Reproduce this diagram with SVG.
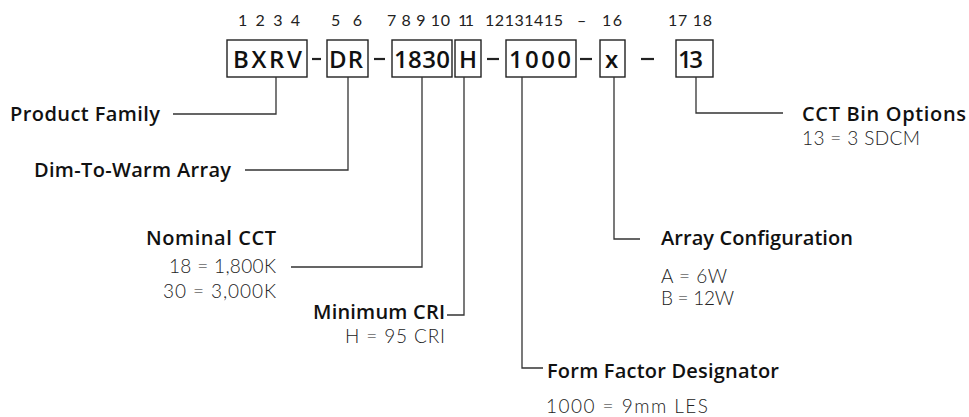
<svg xmlns="http://www.w3.org/2000/svg" width="969" height="417" viewBox="0 0 969 417">
<style>
.bx{fill:#fff;stroke:#222;stroke-width:1.4}
.code{font-family:"Open Sans",Lato,"Liberation Sans",sans-serif;font-weight:600;font-size:24px;fill:#111}
.num{font-family:Lato,"Open Sans","Liberation Sans",sans-serif;font-weight:400;font-size:16px;fill:#222}
.dash{stroke:#222;stroke-width:2.2}
.ln{fill:none;stroke:#333;stroke-width:1.3}
.t{font-family:"Open Sans",Lato,"Liberation Sans",sans-serif;font-weight:600;font-size:20px;fill:#111}
.d{font-family:Lato,"Open Sans","Liberation Sans",sans-serif;font-weight:300;font-size:19px;fill:#222}
</style>
<rect width="969" height="417" fill="#fff"/>
<g id="numbers">
<text class="num" x="238" y="26" textLength="62">1 2 3 4</text>
<text class="num" x="331" y="26" textLength="31">5 6</text>
<text class="num" x="387" y="26" textLength="63">7 8 9 10</text>
<text class="num" x="458" y="26" textLength="16">11</text>
<text class="num" x="485" y="26" textLength="78">12131415</text>
<text class="num" x="577" y="26">–</text>
<text class="num" x="602" y="26" textLength="20">16</text>
<text class="num" x="668" y="26" textLength="44">17 18</text>
</g>
<g id="code">
<g id="box-bxrv"><rect class="bx" x="227" y="40" width="80" height="37"/><text class="code" x="233" y="68" textLength="69">BXRV</text></g>
<g id="box-dr"><rect class="bx" x="327" y="40" width="41" height="37"/><text class="code" x="329" y="68" textLength="34">DR</text></g>
<g id="box-1830"><rect class="bx" x="392" y="40" width="60" height="37"/><text class="code" x="394" y="68" textLength="56">1830</text></g>
<g id="box-h"><rect class="bx" x="455" y="40" width="26" height="37"/><text class="code" x="459" y="68" textLength="18">H</text></g>
<g id="box-1000"><rect class="bx" x="506" y="40" width="70" height="37"/><text class="code" x="509" y="68" textLength="62">1000</text></g>
<g id="box-x"><rect class="bx" x="600" y="40" width="25" height="37"/><text class="code" x="605" y="68" textLength="13">x</text></g>
<g id="box-13"><rect class="bx" x="676" y="40" width="37" height="37"/><text class="code" x="678" y="68" textLength="25">13</text></g>
<g id="dashes">
<line class="dash" x1="312" y1="59" x2="321" y2="59"/>
<line class="dash" x1="374" y1="59" x2="385" y2="59"/>
<line class="dash" x1="487" y1="59" x2="499" y2="59"/>
<line class="dash" x1="580" y1="59" x2="592" y2="59"/>
<line class="dash" x1="641" y1="59" x2="654" y2="59"/>
</g>
</g>
<g id="connectors">
<polyline class="ln" points="276,77 276,114 173,114"/>
<polyline class="ln" points="348,77 348,170 245,170"/>
<polyline class="ln" points="422,77 422,267 291,267"/>
<polyline class="ln" points="464,77 464,315 447,315"/>
<polyline class="ln" points="522,77 522,368 543,368"/>
<polyline class="ln" points="614,77 614,239 640,239"/>
<polyline class="ln" points="696,77 696,113 783,113"/>
</g>
<g id="product-family"><text class="t" x="10" y="121" textLength="150">Product Family</text></g>
<g id="dim-to-warm"><text class="t" x="34" y="177" textLength="197">Dim-To-Warm Array</text></g>
<g id="nominal-cct">
<text class="t" x="146" y="245" textLength="130">Nominal CCT</text>
<text class="d" x="169" y="273" textLength="107">18 = 1,800K</text>
<text class="d" x="163" y="298" textLength="113">30 = 3,000K</text>
</g>
<g id="minimum-cri">
<text class="t" x="313" y="319" textLength="132">Minimum CRI</text>
<text class="d" x="345" y="343" textLength="100">H = 95 CRI</text>
</g>
<g id="form-factor">
<text class="t" x="547" y="378" textLength="232">Form Factor Designator</text>
<text class="d" x="546" y="413" textLength="162">1000 = 9mm LES</text>
</g>
<g id="array-config">
<text class="t" x="661" y="245" textLength="192">Array Configuration</text>
<text class="d" x="661" y="283" textLength="66">A = 6W</text>
<text class="d" x="661" y="305" textLength="73">B = 12W</text>
</g>
<g id="cct-bin">
<text class="t" x="802" y="121" textLength="164">CCT Bin Options</text>
<text class="d" x="802" y="145" textLength="118">13 = 3 SDCM</text>
</g>
</svg>
